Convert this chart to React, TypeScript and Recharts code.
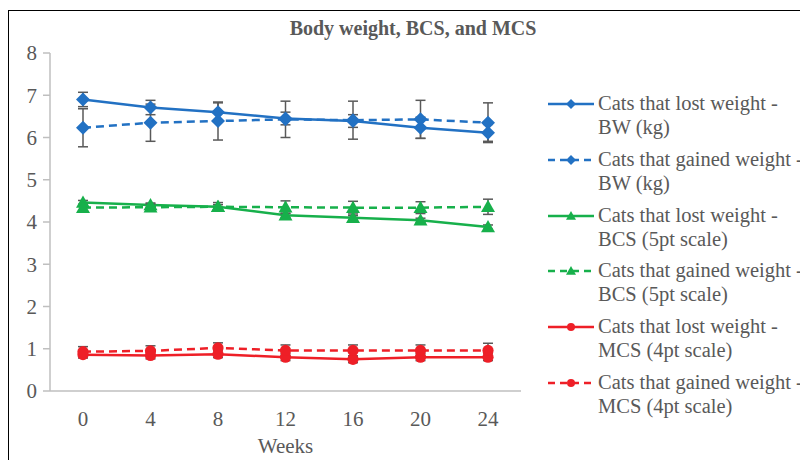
import React from 'react';
import { LineChart, Line, XAxis, YAxis, ErrorBar } from 'recharts';

const weeks = ['0', '4', '8', '12', '16', '20', '24'];

const lostBW = [6.9, 6.71, 6.6, 6.45, 6.39, 6.23, 6.11];
const lostBWErr = [0.17, 0.17, 0.22, 0.15, 0.15, 0.25, 0.2];
const gainedBW = [6.23, 6.35, 6.39, 6.43, 6.41, 6.43, 6.35];
const gainedBWErr = [0.45, 0.44, 0.45, 0.43, 0.45, 0.45, 0.47];

const lostBCS = [4.46, 4.4, 4.36, 4.16, 4.1, 4.04, 3.88];
const lostBCSErr = [0.05, 0.05, 0.05, 0.05, 0.05, 0.05, 0.05];
const gainedBCS = [4.34, 4.35, 4.36, 4.35, 4.34, 4.34, 4.36];
const gainedBCSErr = [0.08, 0.08, 0.1, 0.15, 0.15, 0.14, 0.18];

const lostMCS = [0.86, 0.84, 0.87, 0.8, 0.75, 0.8, 0.8];
const lostMCSErr = [0.08, 0.08, 0.08, 0.08, 0.08, 0.08, 0.08];
const gainedMCS = [0.93, 0.95, 1.02, 0.96, 0.96, 0.96, 0.96];
const gainedMCSErr = [0.12, 0.12, 0.12, 0.13, 0.13, 0.13, 0.17];

const yTicks = [0, 1, 2, 3, 4, 5, 6, 7, 8];

const BLUE = '#2271c3';
const GREEN = '#17b04b';
const RED = '#ee1f27';
const TEXT = '#595959';
const FONT = '"Liberation Serif", "Times New Roman", serif';

const data = weeks.map((w, i) => ({
    week: w,
    lostBW: lostBW[i], lostBWErr: lostBWErr[i],
    gainedBW: gainedBW[i], gainedBWErr: gainedBWErr[i],
    lostBCS: lostBCS[i], lostBCSErr: lostBCSErr[i],
    gainedBCS: gainedBCS[i], gainedBCSErr: gainedBCSErr[i],
    lostMCS: lostMCS[i], lostMCSErr: lostMCSErr[i],
    gainedMCS: gainedMCS[i], gainedMCSErr: gainedMCSErr[i],
}));

type Shape = 'diamond' | 'triangle' | 'circle';

function marker(shape: Shape, cx: number, cy: number, r: number, color: string, key?: string) {
    if (shape === 'diamond') {
        return <path key={key} d={`M${cx},${cy - r}L${cx + r},${cy}L${cx},${cy + r}L${cx - r},${cy}Z`} fill={color} />;
    }
    if (shape === 'triangle') {
        return <path key={key} d={`M${cx},${cy - r}L${cx + r},${cy + r * 0.75}L${cx - r},${cy + r * 0.75}Z`} fill={color} />;
    }
    return <circle key={key} cx={cx} cy={cy} r={r * 0.8} fill={color} />;
}

const makeDot = (shape: Shape, color: string) => (props: any) => {
    const { cx, cy, index, dataKey } = props;
    if (cx == null || cy == null) return <g key={`${dataKey}-${index}`} />;
    return marker(shape, cx, cy, 7, color, `${dataKey}-${index}`);
};

const series = [
    { key: 'lostBW', color: BLUE, shape: 'diamond' as Shape, dashed: false, l1: 'Cats that lost weight -', l2: 'BW (kg)' },
    { key: 'gainedBW', color: BLUE, shape: 'diamond' as Shape, dashed: true, l1: 'Cats that gained weight -', l2: 'BW (kg)' },
    { key: 'lostBCS', color: GREEN, shape: 'triangle' as Shape, dashed: false, l1: 'Cats that lost weight -', l2: 'BCS (5pt scale)' },
    { key: 'gainedBCS', color: GREEN, shape: 'triangle' as Shape, dashed: true, l1: 'Cats that gained weight -', l2: 'BCS (5pt scale)' },
    { key: 'lostMCS', color: RED, shape: 'circle' as Shape, dashed: false, l1: 'Cats that lost weight -', l2: 'MCS (4pt scale)' },
    { key: 'gainedMCS', color: RED, shape: 'circle' as Shape, dashed: true, l1: 'Cats that gained weight -', l2: 'MCS (4pt scale)' },
];

export default function App() {
    return (
        <div style={{ position: 'relative', marginTop: 2, width: 805, height: 460, borderLeft: '1px solid #000', borderTop: '1px solid #000', background: '#fff', fontFamily: FONT }}>
            <div style={{ position: 'absolute', top: 6, left: 0, width: 808, textAlign: 'center', fontWeight: 'bold', fontSize: 20, color: TEXT }}>
                Body weight, BCS, and MCS
            </div>
            <LineChart width={800} height={450} data={data} margin={{ top: 42, right: 288, left: 11, bottom: 14 }}>
                <XAxis
                    dataKey="week"
                    stroke="#bfbfbf"
                    strokeWidth={1.5}
                    tickLine={false}
                    padding={{ left: 33, right: 33 }}
                    tick={{ fill: TEXT, fontSize: 21, fontFamily: FONT }}
                    tickMargin={14}
                    height={56}
                    label={{ value: 'Weeks', position: 'insideBottom', offset: -6, fill: TEXT, fontSize: 21, fontFamily: FONT }}
                />
                <YAxis
                    domain={[0, 8]}
                    ticks={yTicks}
                    stroke="#bfbfbf"
                    strokeWidth={1.5}
                    tickSize={7}
                    tick={{ fill: TEXT, fontSize: 21, fontFamily: FONT }}
                    tickMargin={6}
                    width={30}
                />
                {series.map(s => (
                    <Line
                        key={s.key}
                        dataKey={s.key}
                        stroke={s.color}
                        strokeWidth={2.5}
                        strokeDasharray={s.dashed ? '8 5' : undefined}
                        dot={makeDot(s.shape, s.color)}
                        activeDot={false}
                        isAnimationActive={false}
                    >
                        <ErrorBar dataKey={`${s.key}Err`} stroke="#595959" strokeWidth={1.5} width={5} />
                    </Line>
                ))}
            </LineChart>
            <div style={{ position: 'absolute', left: 539, top: 80, color: TEXT, fontSize: 20.5, lineHeight: '24px' }}>
                {series.map(s => (
                    <div key={s.key} style={{ display: 'flex', alignItems: 'flex-start', height: 55.8 }}>
                        <svg width={50} height={24} style={{ flexShrink: 0 }}>
                            <line x1={0} y1={13} x2={46} y2={13} stroke={s.color} strokeWidth={2.5} strokeDasharray={s.dashed ? '7 5' : undefined} />
                            {marker(s.shape, 23, 13, 5, s.color)}
                        </svg>
                        <div style={{ whiteSpace: 'nowrap' }}>
                            <div>{s.l1}</div>
                            <div>{s.l2}</div>
                        </div>
                    </div>
                ))}
            </div>
        </div>
    );
}
